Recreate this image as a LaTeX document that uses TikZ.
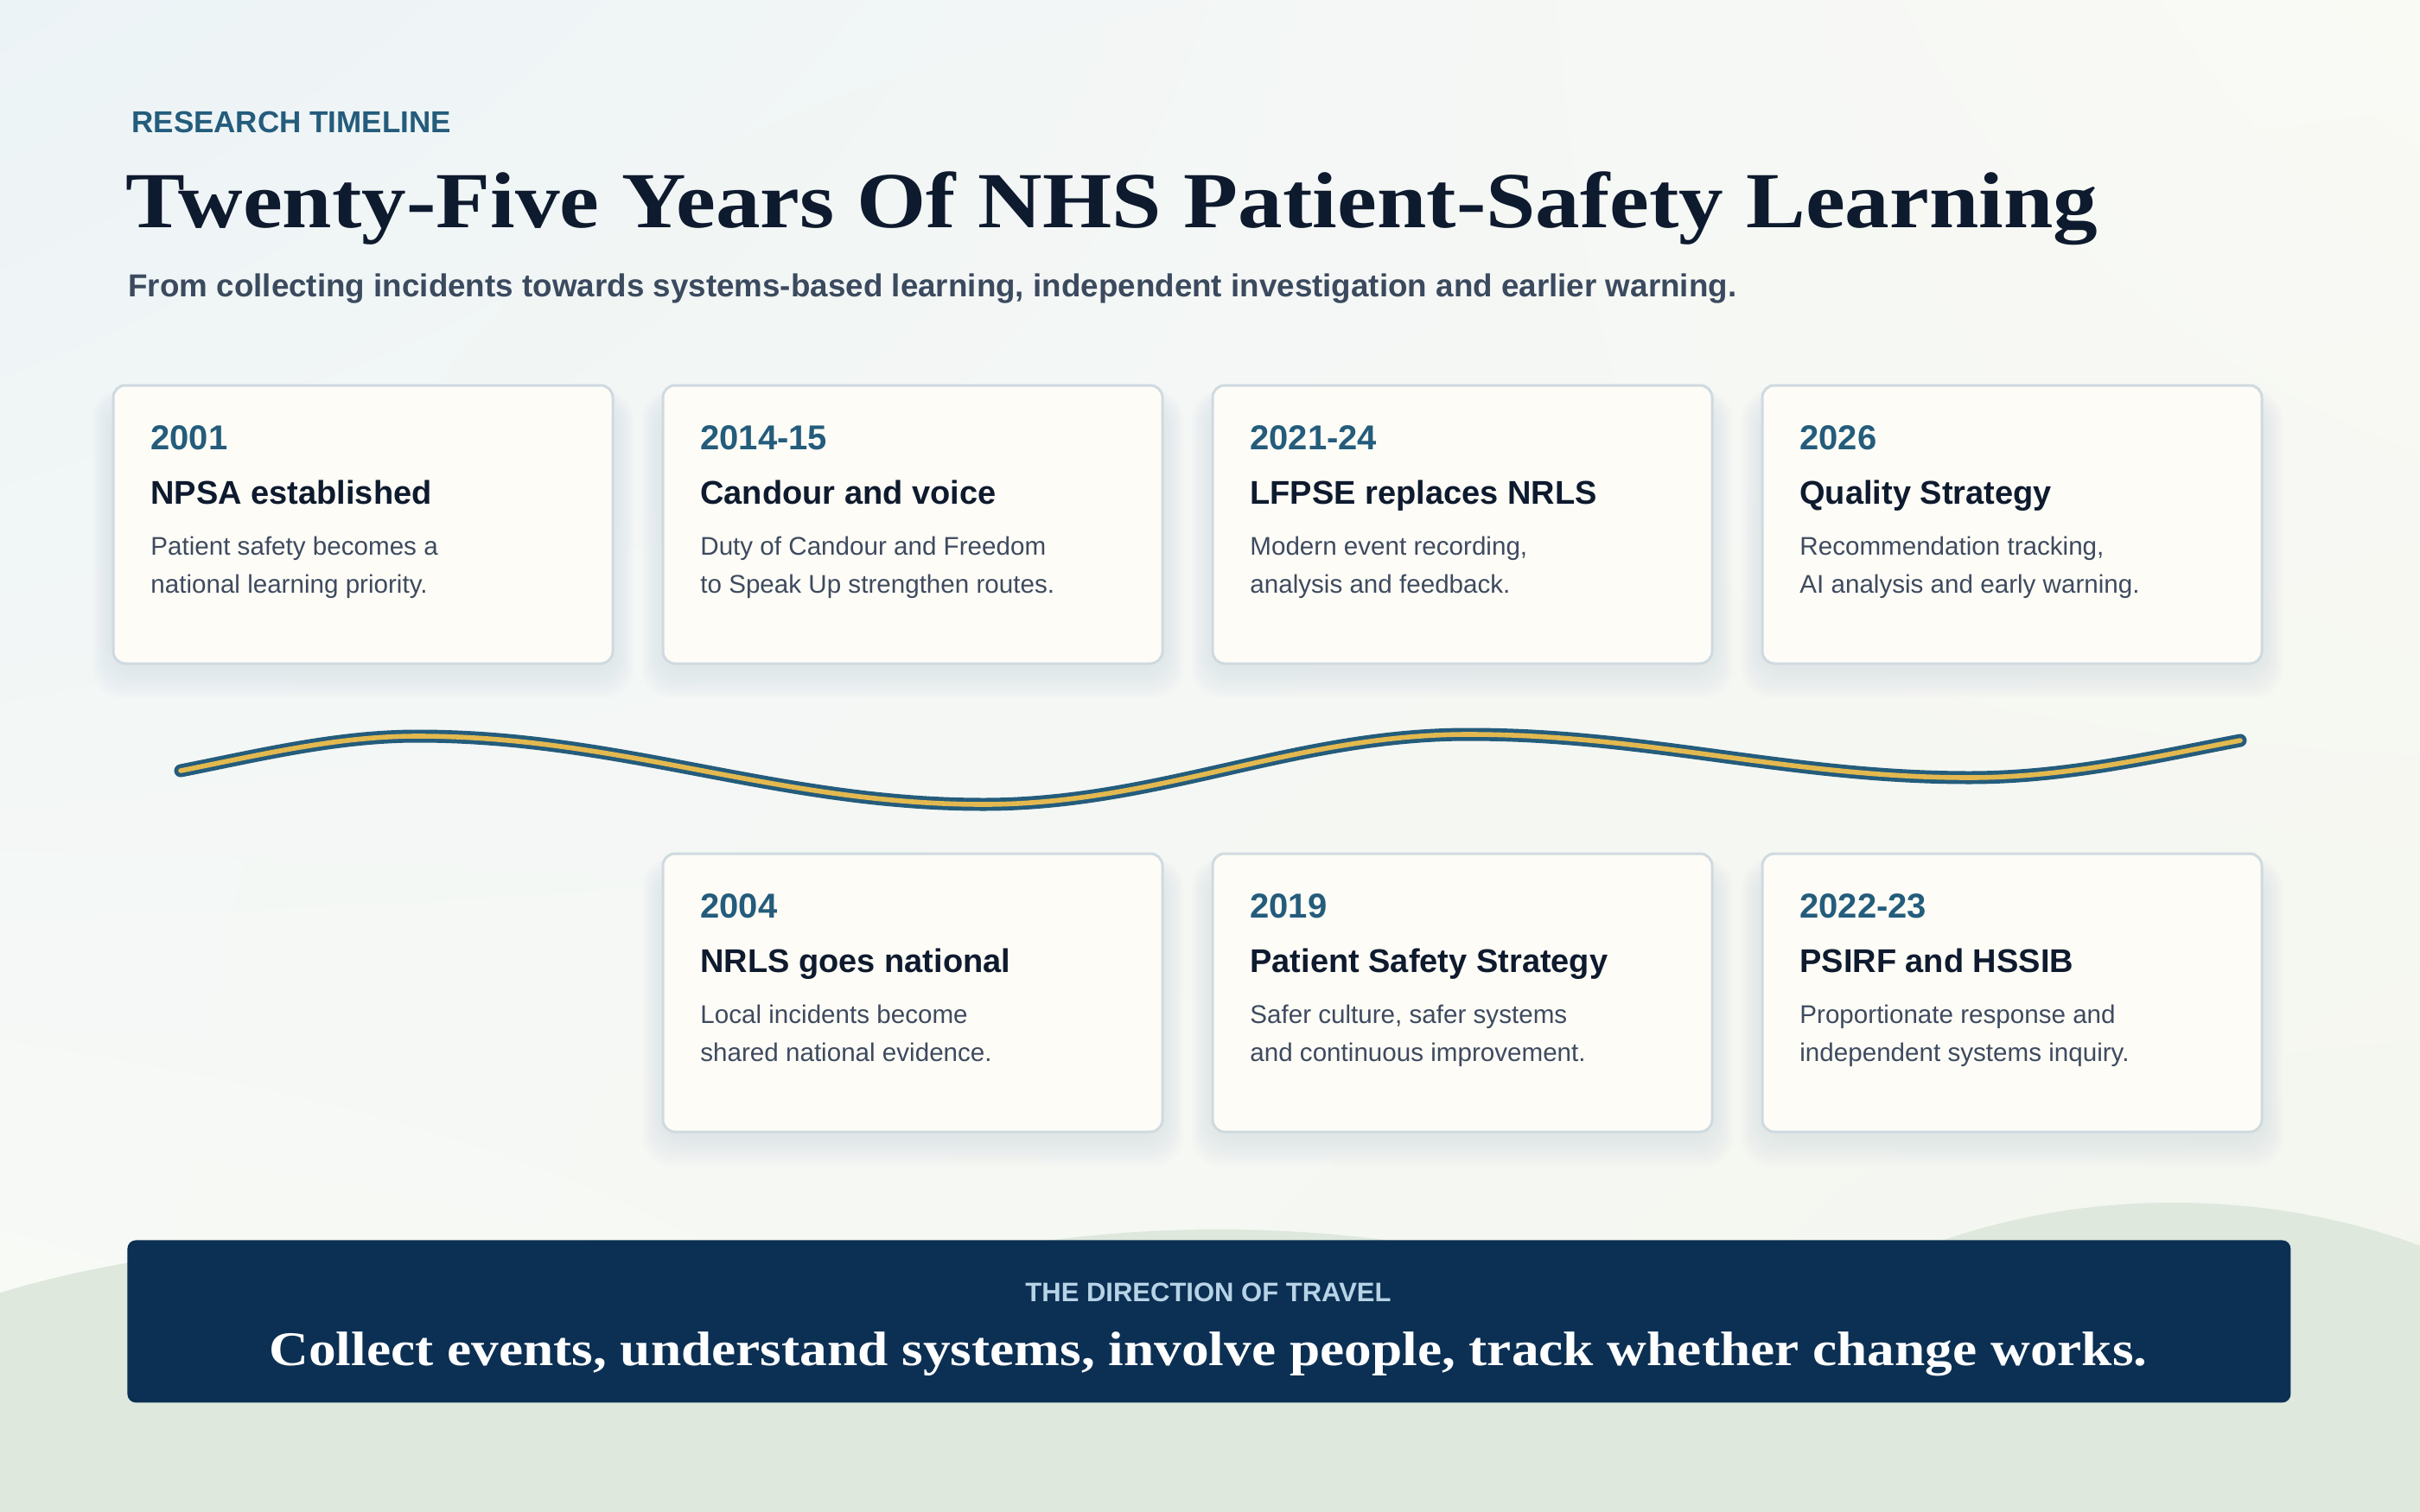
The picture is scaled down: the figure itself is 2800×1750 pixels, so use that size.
\documentclass[tikz,border=0pt]{standalone}
\usepackage{fontspec}
\usepackage{graphicx}
\usetikzlibrary{shadings}
\setmainfont{Liberation Sans}
\newfontfamily\sansf{Liberation Sans}
\newfontfamily\seriff{Liberation Serif}
\definecolor{tealc}{HTML}{245C7C}
\definecolor{navyt}{HTML}{0E1A2E}
\definecolor{desct}{HTML}{3E4A5F}
\definecolor{subt}{HTML}{3B4A5E}
\definecolor{cardfill}{HTML}{FDFCF6}
\definecolor{cardedge}{HTML}{CFDAE0}
\definecolor{bannerc}{HTML}{0C3054}
\definecolor{bannerlbl}{HTML}{B7D3E6}
\definecolor{hillc}{HTML}{DEE8DD}
\definecolor{goldc}{HTML}{E3B94F}
\definecolor{shadowc}{HTML}{66707C}
\definecolor{bgUL}{HTML}{ECF3F6}
\definecolor{bgUR}{HTML}{FAFAF5}
\definecolor{bgLL}{HTML}{FAFBF6}
\definecolor{bgLR}{HTML}{F2F5EE}
\tikzset{
  cardbox/.style={draw=cardedge, line width=1.5pt, fill=cardfill, rounded corners=7pt,
    minimum width=289pt, minimum height=161pt, inner sep=0pt, outer sep=0pt, anchor=north west},
  yeartxt/.style={font=\sansf\bfseries\fontsize{20pt}{24pt}\selectfont, text=tealc, inner sep=0pt, anchor=base west},
  cardtitle/.style={font=\sansf\bfseries\fontsize{19pt}{23pt}\selectfont, text=navyt, inner sep=0pt, anchor=base west},
  desctxt/.style={font=\sansf\fontsize{14.8pt}{18pt}\selectfont, text=desct, inner sep=0pt, anchor=base west},
  shadowlayer/.style={fill=shadowc, opacity=0.007, rounded corners=16pt},
}
\newcommand{\tlcard}[7]{%
  \foreach \k in {1,...,12}{
    \fill[shadowlayer] (#2-2*\k, #3+24-1.5*\k) rectangle (#2+578+2*\k, #3+326+3*\k);
  }
  \node[cardbox] (#1) at (#2,#3) {};
  \node[yeartxt] (#1y) at (#2+43,#3+74) {#4};
  \node[cardtitle] (#1t) at (#2+43,#3+137) {#5};
  \node[desctxt] (#1a) at (#2+43,#3+196) {#6};
  \node[desctxt] (#1b) at (#2+43,#3+240) {#7};
}
\begin{document}
\begin{tikzpicture}[x=0.5pt,y=-0.5pt]
\useasboundingbox (0,0) rectangle (2800,1750);
% background
\shade[upper left=bgUL, upper right=bgUR, lower left=bgLL, lower right=bgLR] (0,0) rectangle (2800,1750);
% hills
\begin{scope}
  \clip (0,0) rectangle (2800,1750);
  \fill[hillc] (411,1736) ellipse [x radius=700, y radius=296];
  \fill[hillc] (1410,1742) ellipse [x radius=700, y radius=319];
  \fill[hillc] (2515,1809) ellipse [x radius=600, y radius=417];
  \fill[hillc] (0,1600) rectangle (2800,1750);
\end{scope}
% header
\node[font=\sansf\bfseries\fontsize{17.5pt}{21pt}\selectfont, text=tealc, inner sep=0pt, anchor=base west] (kicker) at (152,154) {RESEARCH TIMELINE};
\node[font=\seriff\bfseries\fontsize{46pt}{50pt}\selectfont, text=navyt, inner sep=0pt, anchor=base west] (title) at (145,263)
  {\resizebox{1141pt}{\height}{Twenty-Five Years Of NHS Patient-Safety Learning}};
\node[font=\sansf\bfseries\fontsize{18.4pt}{22pt}\selectfont, text=subt, inner sep=0pt, anchor=base west] (subtitle) at (148,343)
  {From collecting incidents towards systems-based learning, independent investigation and earlier warning.};
% cards row 1
\tlcard{c2001}{131}{446}{2001}{NPSA established}{Patient safety becomes a}{national learning priority.}
\tlcard{c2014}{767}{446}{2014-15}{Candour and voice}{Duty of Candour and Freedom}{to Speak Up strengthen routes.}
\tlcard{c2021}{1403}{446}{2021-24}{LFPSE replaces NRLS}{Modern event recording,}{analysis and feedback.}
\tlcard{c2026}{2039}{446}{2026}{Quality Strategy}{Recommendation tracking,}{AI analysis and early warning.}
% cards row 2
\tlcard{c2004}{767}{988}{2004}{NRLS goes national}{Local incidents become}{shared national evidence.}
\tlcard{c2019}{1403}{988}{2019}{Patient Safety Strategy}{Safer culture, safer systems}{and continuous improvement.}
\tlcard{c2022}{2039}{988}{2022-23}{PSIRF and HSSIB}{Proportionate response and}{independent systems inquiry.}
% wave
\coordinate (w0) at (209,892);
\coordinate (w1) at (483,852);
\coordinate (w2) at (1138,931);
\coordinate (w3) at (1699,850);
\coordinate (w4) at (2279,900);
\coordinate (w5) at (2592,857);
\foreach \wcol/\wlw in {tealc/7.5pt, goldc/2.8pt}{
  \draw[\wcol, line width=\wlw, line cap=round]
    (w0) .. controls (300,874) and (390,852) .. (w1)
         .. controls (720,852) and (900,931) .. (w2)
         .. controls (1340,931) and (1497,850) .. (w3)
         .. controls (1908,850) and (2070,900) .. (w4)
         .. controls (2390,900) and (2492,876) .. (w5);
}
% banner
\node[fill=bannerc, rounded corners=5pt, minimum width=1251.5pt, minimum height=94pt, inner sep=0pt, anchor=north west] (banner) at (147,1435) {};
\node[font=\sansf\bfseries\fontsize{15.5pt}{19pt}\selectfont, text=bannerlbl, inner sep=0pt, anchor=base] (dirlbl) at (1398,1506) {THE DIRECTION OF TRAVEL};
\node[font=\seriff\bfseries\fontsize{28pt}{32pt}\selectfont, text=white, inner sep=0pt, anchor=base] (dirmain) at (1398,1580)
  {\resizebox{1086.5pt}{\height}{Collect events, understand systems, involve people, track whether change works.}};
\end{tikzpicture}
\end{document}
